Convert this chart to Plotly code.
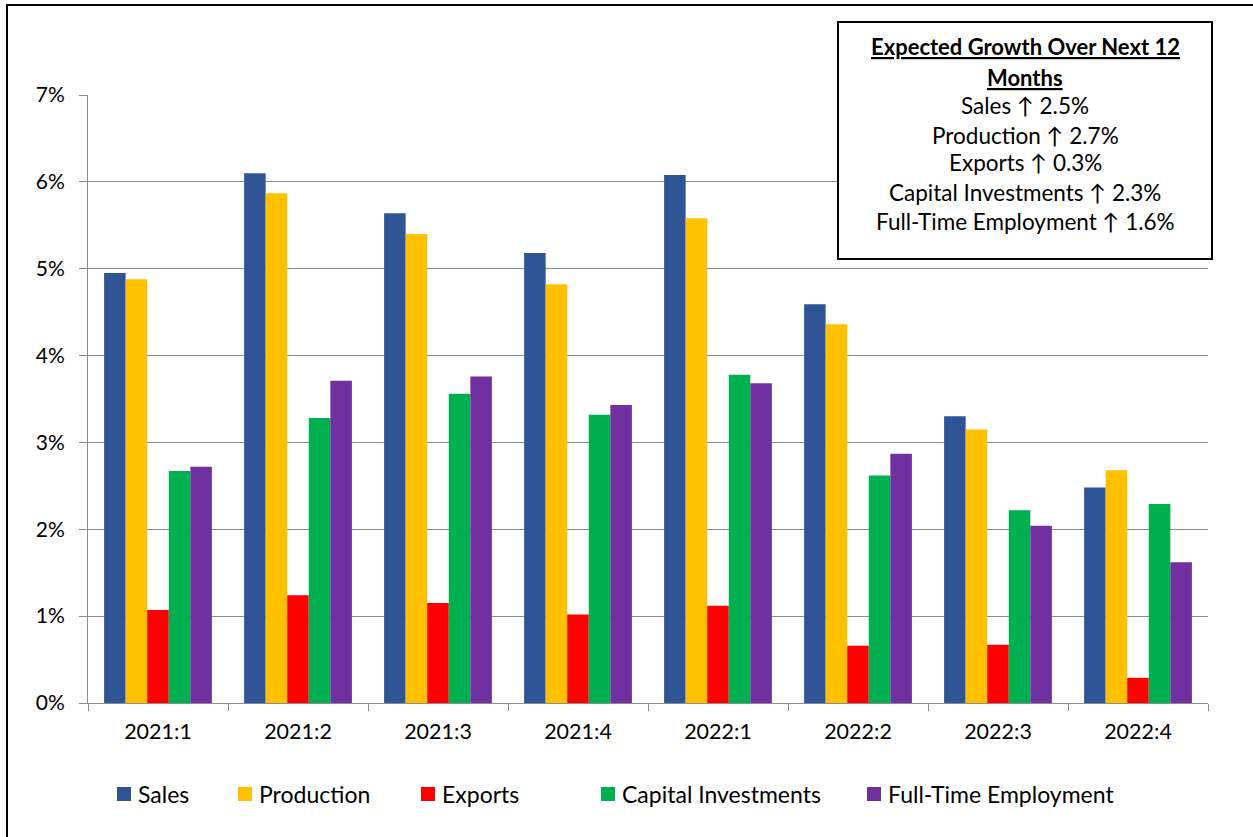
import plotly.graph_objects as go

categories = ["2021:1", "2021:2", "2021:3", "2021:4", "2022:1", "2022:2", "2022:3", "2022:4"]
sales = [4.95, 6.10, 5.64, 5.18, 6.08, 4.59, 3.30, 2.48]
production = [4.88, 5.87, 5.40, 4.82, 5.58, 4.36, 3.15, 2.68]
exports = [1.07, 1.24, 1.15, 1.02, 1.12, 0.66, 0.67, 0.29]
capital = [2.67, 3.28, 3.56, 3.32, 3.78, 2.62, 2.22, 2.29]
employment = [2.72, 3.71, 3.76, 3.43, 3.68, 2.87, 2.04, 1.62]

series_names = ["Sales", "Production", "Exports", "Capital Investments", "Full-Time Employment"]
series_values = [sales, production, exports, capital, employment]
colors = ["#2F5597", "#FFC000", "#FF0000", "#00B050", "#7030A0"]

box_title_lines = ["Expected Growth Over Next 12", "Months"]
box_lines = ["Sales ↑ 2.5%", "Production ↑ 2.7%", "Exports ↑ 0.3%",
             "Capital Investments ↑ 2.3%", "Full-Time Employment ↑ 1.6%"]

FONT = "Lato, 'Open Sans', sans-serif"
W, H = 1253, 837
L, R, T, B = 88, 45, 95, 134
PW, PH = W - L - R, H - T - B


def px(x):
    return (x - L) / PW


def py(y):
    return (H - B - y) / PH


fig = go.Figure()
for name, vals, col in zip(series_names, series_values, colors):
    fig.add_trace(go.Bar(x=categories, y=[v / 100 for v in vals], name=name,
                         marker=dict(color=col, line=dict(width=0))))

shapes = [
    dict(type="rect", xref="paper", yref="paper",
         x0=px(7), x1=px(1300), y0=py(900), y1=py(5),
         line=dict(color="black", width=2), fillcolor="rgba(0,0,0,0)", layer="above"),
    dict(type="rect", xref="paper", yref="paper",
         x0=px(838), x1=px(1212), y0=py(259), y1=py(22),
         line=dict(color="black", width=2), fillcolor="white", layer="above"),
]

# manual legend (Excel-style: small square tight to the label)
legend_sq_x = [117, 238, 421, 601, 867]
legend_y = 794
for name, col, sx in zip(series_names, colors, legend_sq_x):
    shapes.append(dict(type="rect", xref="paper", yref="paper",
                       x0=px(sx), x1=px(sx + 14), y0=py(legend_y + 7), y1=py(legend_y - 7),
                       line=dict(width=0), fillcolor=col, layer="above"))
    fig.add_annotation(xref="paper", yref="paper", x=px(sx + 19), y=py(legend_y),
                       xanchor="left", yanchor="middle", showarrow=False,
                       text=name, font=dict(size=23, family=FONT, color="black"))

fig.update_layout(
    width=W, height=H,
    paper_bgcolor="white", plot_bgcolor="white",
    margin=dict(l=L, r=R, t=T, b=B),
    barmode="group", bargap=0.23, bargroupgap=0,
    font=dict(family=FONT, color="#000000"),
    showlegend=False,
    xaxis=dict(type="category", showline=True, linecolor="#8c8c8c", linewidth=1,
               ticks="outside", tickson="boundaries", ticklen=7, tickcolor="#8c8c8c",
               tickfont=dict(size=21.5, family=FONT), showgrid=False, ticklabelstandoff=9),
    yaxis=dict(range=[0, 0.07], dtick=0.01, tickformat=".0%", showline=True,
               linecolor="#8c8c8c", linewidth=1, ticks="outside", ticklen=8,
               tickcolor="#8c8c8c", showgrid=True, gridcolor="#8c8c8c", gridwidth=1,
               tickfont=dict(size=21, family=FONT), zeroline=False, ticklabelstandoff=10),
    shapes=shapes,
)

box_center_x = px((838 + 1212) / 2)
line_ys = [47, 77, 106, 135, 163, 192, 221]
all_lines = ["<b><u>" + t + "</u></b>" for t in box_title_lines] + box_lines
sizes = [22, 22, 22.5, 22.5, 22.5, 22.5, 22.5]
for txt, yy, fs in zip(all_lines, line_ys, sizes):
    fig.add_annotation(xref="paper", yref="paper", x=box_center_x, y=py(yy),
                       xanchor="center", yanchor="middle", showarrow=False,
                       text=txt, font=dict(size=fs, family=FONT, color="black"))

fig.write_html("out.html", config={"displayModeBar": False},
               post_script="document.body.style.margin='0';")
